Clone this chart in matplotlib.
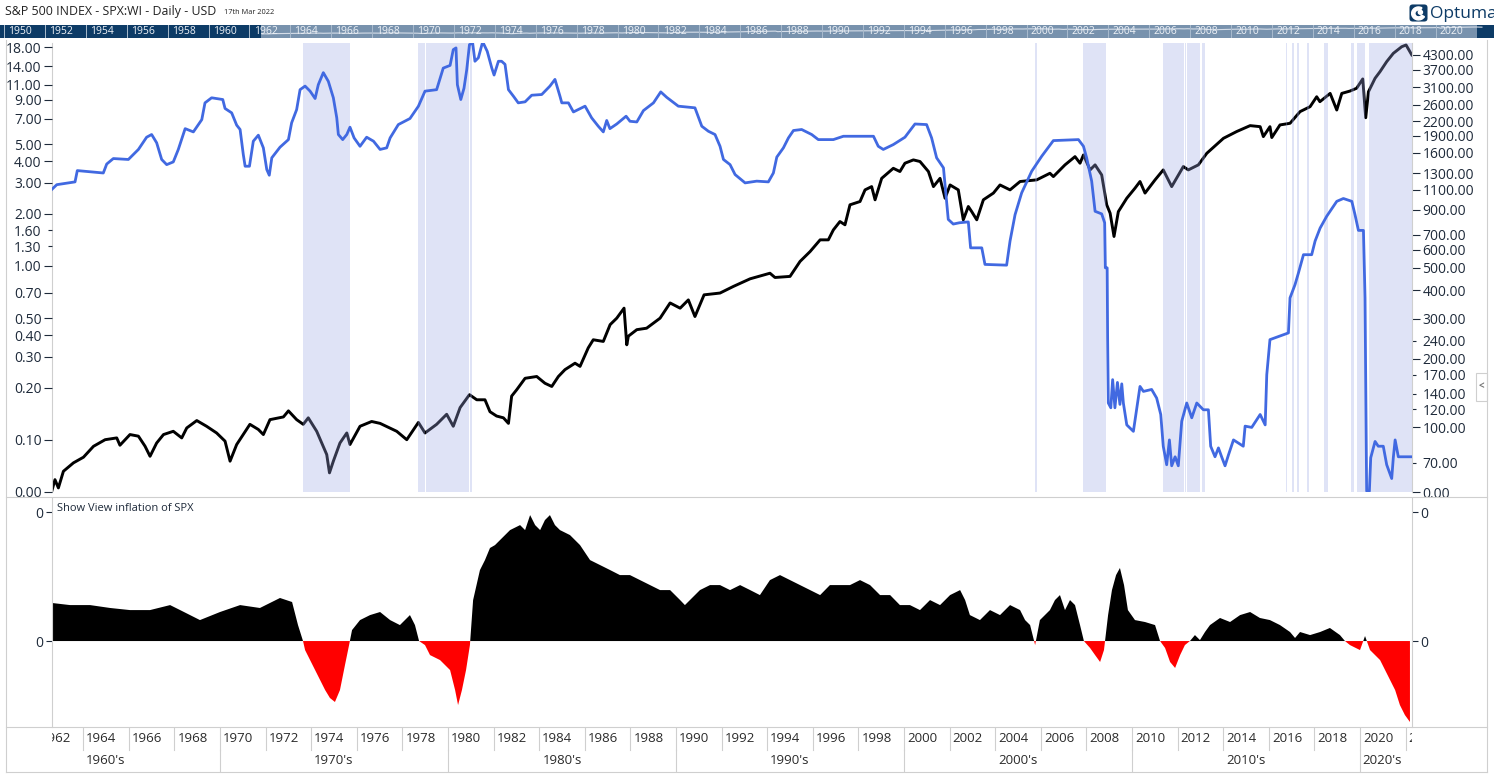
import numpy as np
import matplotlib
matplotlib.use("Agg")
import matplotlib.pyplot as plt
from matplotlib.lines import Line2D
from matplotlib.patches import Rectangle, FancyBboxPatch, Wedge, Circle

# ---- data ----
# 3-month rate (blue, left axis)
blue_years = [1962.62, 1962.84, 1963.64, 1963.74, 1964.88, 1965.03, 1965.32, 1965.98, 1966.42, 1966.78,
              1967.0, 1967.22, 1967.44, 1967.66, 1967.95, 1968.17, 1968.47, 1968.83, 1969.2, 1969.34,
              1969.63, 1970.12, 1970.22, 1970.51, 1970.73, 1970.88, 1971.02, 1971.1, 1971.29, 1971.46,
              1971.68, 1971.9, 1972.05, 1972.16, 1972.27, 1972.63, 1973.0, 1973.14, 1973.36, 1973.51,
              1973.73, 1973.95, 1974.17, 1974.31, 1974.53, 1974.75, 1974.97, 1975.12, 1975.19, 1975.38,
              1975.56, 1975.7, 1975.88, 1976.14, 1976.43, 1976.73, 1977.02, 1977.31, 1977.46, 1977.82,
              1978.33, 1978.7, 1978.99, 1979.5, 1979.79, 1980.09, 1980.23, 1980.35, 1980.41, 1980.56,
              1980.7, 1980.82, 1980.94, 1981.08, 1981.18, 1981.33, 1981.52, 1981.72, 1981.92, 1982.02,
              1982.21,
              1982.35, 1982.5, 1982.65, 1982.87, 1983.08, 1983.38, 1983.67, 1984.11, 1984.47, 1984.69,
              1984.91, 1984.99, 1985.28, 1985.5, 1986.01, 1986.3, 1986.59, 1986.81, 1986.96, 1987.1,
              1987.4, 1987.81, 1987.98, 1988.28, 1988.57, 1989.01, 1989.33, 1989.59, 1990.1, 1990.83,
              1991.13, 1991.42, 1991.71, 1991.93, 1992.08, 1992.37, 1992.59, 1993.03, 1993.54, 1994.05,
              1994.27, 1994.42, 1994.71, 1994.93, 1995.15, 1995.51, 1995.95, 1996.24, 1996.9, 1997.34,
              1998.66, 1998.87, 1999.09, 1999.53, 2000.04, 2000.48, 2000.99, 2001.21, 2001.43, 2001.73,
              2001.94, 2002.16, 2002.43,
              2002.82, 2002.92, 2003.41, 2003.55, 2004.5, 2004.65, 2004.87, 2005.16, 2005.6, 2006.04,
              2006.55, 2007.65, 2007.87, 2008.01, 2008.23, 2008.38, 2008.67, 2008.8, 2008.83, 2008.91,
              2008.93, 2008.96, 2009.07, 2009.15, 2009.25, 2009.36, 2009.47, 2009.55, 2009.62, 2009.77,
              2010.06, 2010.21, 2010.35, 2010.5, 2010.86, 2011.08, 2011.26, 2011.37, 2011.52, 2011.64,
              2011.74, 2011.89, 2012.03, 2012.18, 2012.4, 2012.62, 2012.84, 2013.13, 2013.35, 2013.45,
              2013.64, 2013.79, 2013.93, 2014.08, 2014.23, 2014.45, 2014.88, 2014.96, 2015.25, 2015.62,
              2015.84, 2015.91, 2016.05, 2016.86, 2016.93, 2017.15, 2017.3, 2017.52, 2017.88, 2018.03,
              2018.25, 2018.54, 2018.98, 2019.27, 2019.64, 2019.78, 2019.93, 2020.15, 2020.22, 2020.29,
              2020.41, 2020.47, 2020.66, 2020.8, 2021.02, 2021.17, 2021.39, 2021.46, 2021.54, 2021.68,
              2022.05, 2022.25]
blue_vals = [2.75, 2.93, 3.04, 3.53, 3.42, 3.85, 4.14, 4.09, 4.67, 5.49,
             5.69, 5.10, 4.09, 3.82, 3.96, 4.67, 6.15, 5.89, 6.93, 8.65,
             9.25, 9.04, 8.03, 7.58, 6.44, 6.08, 4.37, 3.74, 3.74, 5.21,
             5.64, 4.77, 3.58, 3.32, 4.18, 4.81, 5.32, 6.64, 7.91, 10.3,
             10.8, 10.1, 9.16, 11.0, 12.9, 11.5, 9.25, 7.09, 5.69, 5.32,
             5.69, 6.27, 5.44, 4.87, 5.49, 5.21, 4.67, 4.77, 5.44, 6.49,
             7.03, 8.27, 10.1, 10.3, 13.7, 14.2, 17.5, 17.9, 11.0, 9.04,
             10.5, 13.4, 18.7, 19.1, 15.0, 15.7, 19.4, 17.1, 13.7, 12.5,
             15.0,
             15.0, 14.4, 10.3, 9.44, 8.65, 8.77, 9.57, 9.66, 10.8, 11.8,
             9.44, 8.65, 8.65, 7.67, 8.28, 7.09, 6.35, 5.89, 6.85, 6.15,
             6.54, 7.25, 6.78, 6.72, 7.81, 8.65, 10.0, 9.31, 8.28, 8.10,
             6.35, 5.94, 5.69, 4.87, 4.09, 3.82, 3.35, 3.00, 3.07, 3.04,
             3.42, 4.22, 4.77, 5.44, 6.00, 6.08, 5.69, 5.32, 5.32, 5.56,
             5.56, 4.87, 4.67, 4.98, 5.49, 6.54, 6.49, 5.44, 4.18, 3.66,
             1.85, 1.74, 1.77,
             1.79, 1.27, 1.27, 1.02, 1.01, 1.39, 1.97, 2.63, 3.50, 4.27,
             5.25, 5.32, 4.87, 4.18, 3.07, 2.06, 1.99, 1.77, 0.975, 0.975,
             0.386, 0.163, 0.153, 0.222, 0.153, 0.214, 0.160, 0.210, 0.163, 0.122,
             0.112, 0.153, 0.203, 0.190, 0.195, 0.174, 0.140, 0.092, 0.072, 0.100,
             0.071, 0.080, 0.071, 0.128, 0.163, 0.134, 0.163, 0.149, 0.149, 0.092,
             0.080, 0.090, 0.080, 0.071, 0.082, 0.100, 0.092, 0.120, 0.118, 0.140,
             0.122, 0.237, 0.377, 0.412, 0.655, 0.781, 0.912, 1.16, 1.16, 1.39,
             1.65, 1.93, 2.35, 2.44, 2.35, 1.97, 1.60, 1.60, 0.655, 0.0507,
             0.0507, 0.079, 0.098, 0.092, 0.092, 0.072, 0.060, 0.079, 0.100, 0.080,
             0.080, 0.080]

# S&P 500 (black, right axis)
spx_years = [1962.62, 1962.76, 1962.91, 1963.13, 1963.57, 1964.01, 1964.45, 1964.96, 1965.47, 1965.61,
             1966.05, 1966.42, 1966.71, 1966.93, 1967.22, 1967.52, 1967.95, 1968.32, 1968.54, 1968.98,
             1969.41, 1969.85, 1970.22, 1970.44, 1970.73, 1971.31, 1971.68, 1971.9, 1972.19, 1972.78,
             1973.0, 1973.36, 1973.65, 1973.87, 1974.24, 1974.68, 1974.8, 1974.97, 1975.26, 1975.56,
             1975.7, 1976.14, 1976.65, 1977.02, 1977.75, 1978.19, 1978.7, 1978.99, 1979.5, 1979.94,
             1980.23, 1980.53, 1980.94, 1981.26, 1981.62, 1981.84, 1982.13, 1982.43, 1982.65,
             1982.79, 1983.01, 1983.38, 1983.89, 1984.25, 1984.55, 1984.84, 1985.13, 1985.57, 1985.79,
             1986.15, 1986.37, 1986.81, 1987.11, 1987.4, 1987.72, 1987.84, 1987.91, 1988.28, 1988.71,
             1989.3, 1989.74, 1990.18, 1990.54, 1990.83, 1991.23, 1991.93, 1992.52, 1993.25, 1994.12,
             1994.34, 1995.0, 1995.44, 1995.88, 1996.32, 1996.68, 1996.9, 1997.19, 1997.41, 1997.63,
             1998.07, 1998.29, 1998.58, 1998.73, 1999.02, 1999.53, 1999.82, 2000.04, 2000.41, 2000.7,
             2001.07, 2001.29, 2001.58, 2001.8, 2002.02,
             2002.38, 2002.6, 2002.82, 2002.97, 2003.19, 2003.48, 2003.92, 2004.21, 2004.65, 2005.09,
             2005.82, 2006.4, 2006.55, 2007.06, 2007.5, 2007.72, 2007.87, 2008.16, 2008.38, 2008.67,
             2008.89, 2009.04, 2009.21, 2009.4, 2009.77, 2010.13, 2010.35, 2010.57, 2011.01, 2011.37,
             2011.74, 2012.25, 2012.47, 2012.91, 2013.28, 2014.01, 2014.59, 2015.18, 2015.62, 2015.76,
             2016.05, 2016.13, 2016.49, 2016.93, 2017.37, 2017.81, 2018.1, 2018.24, 2018.69, 2018.98,
             2019.2, 2019.56, 2019.85, 2020.12, 2020.25, 2020.37, 2020.66, 2020.88, 2021.17, 2021.46,
             2021.83, 2022.02, 2022.27]
spx_vals = [52.4, 58.9, 54.2, 64.1, 69.8, 73.9, 82.5, 88.2, 89.8, 83.4,
            92.9, 91.4, 82.6, 74.6, 85.3, 92.9, 96.0, 89.8, 99.3, 107,
            101, 94.4, 86.9, 71.0, 84.0, 103, 97.8, 92.9, 108, 111,
            118, 108, 103, 110, 96, 75.9, 63.1, 71, 85.3, 94.4,
            84, 101, 106, 104, 96, 88.2, 105, 94.4, 103, 114,
            101, 122, 139, 132, 132, 117, 112, 110, 104,
            137, 146, 164, 167, 156, 151, 167, 179, 191, 185,
            223, 242, 238, 282, 301, 333, 230, 251, 268, 272,
            301, 351, 333, 362, 306, 381, 388, 415, 448, 474,
            454, 459, 534, 590, 664, 664, 734, 799, 773, 946,
            978, 1100, 1137, 995, 1236, 1368, 1324, 1440, 1489, 1465,
            1324, 1137, 1236, 1011, 1156,
            1100, 813, 930, 883, 813, 995, 1065, 1156, 1100, 1197,
            1217, 1301, 1258, 1416, 1539, 1440, 1566, 1346, 1416, 1279,
            946, 869, 687, 883, 1011, 1119, 1197, 1065, 1217, 1346,
            1137, 1392, 1346, 1416, 1592, 1852, 1983, 2105, 2083, 1884,
            2083, 1866, 2120, 2155, 2425, 2549, 2818, 2681, 2915, 2465,
            2915, 2985, 3070, 3373, 2280, 2965, 3396, 3634, 4018, 4369,
            4672, 4753, 4300]

# lower panel indicator
ind_years = [1962.63, 1963.42, 1964.30, 1965.18, 1966.05, 1966.93, 1967.81, 1968.25, 1969.12, 1970.00,
             1970.88, 1971.75, 1972.63, 1973.16, 1973.42, 1973.64, 1973.73, 1973.95, 1974.17, 1974.39,
             1974.61, 1974.82, 1975.04, 1975.26, 1975.48, 1975.66, 1975.79, 1976.14, 1976.58, 1977.02,
             1977.46, 1977.89, 1978.11, 1978.33, 1978.55, 1978.73, 1978.99, 1979.21, 1979.65, 1980.09,
             1980.31, 1980.44, 1980.61, 1980.79, 1980.96, 1981.10, 1981.40, 1981.62, 1981.84, 1982.06,
             1982.28, 1982.72, 1983.16, 1983.38, 1983.60, 1983.82, 1984.04, 1984.25, 1984.47, 1984.69,
             1984.91, 1985.35, 1985.79, 1986.23, 1986.67, 1987.11, 1987.54, 1987.98, 1988.42, 1988.86,
             1989.30, 1989.74, 1990.18, 1990.39, 1990.61, 1991.05, 1991.49, 1991.93, 1992.37, 1992.81,
             1993.25, 1993.68, 1994.12, 1994.56, 1995.00, 1995.44, 1995.88, 1996.32, 1996.75, 1997.19,
             1997.63, 1998.07, 1998.51, 1998.95, 1999.39, 1999.82, 2000.26, 2000.70, 2001.14, 2001.58,
             2002.02, 2002.46, 2002.68, 2002.89, 2003.33, 2003.77, 2004.21, 2004.65, 2005.09, 2005.31,
             2005.53, 2005.75, 2005.96, 2006.40, 2006.62, 2006.84, 2007.06, 2007.28, 2007.50, 2007.72,
             2007.89, 2008.16, 2008.38, 2008.60, 2008.77, 2008.95, 2009.12, 2009.30, 2009.47, 2009.65,
             2009.82, 2010.13, 2010.57, 2011.01, 2011.23, 2011.45, 2011.67, 2011.89, 2012.11, 2012.32,
             2012.54, 2012.76, 2012.98, 2013.20, 2013.42, 2013.86, 2014.30, 2014.74, 2015.18, 2015.61,
             2016.05, 2016.49, 2016.93, 2017.15, 2017.37, 2017.81, 2018.25, 2018.68, 2019.12, 2019.34,
             2019.56, 2020.00, 2020.22, 2020.44, 2020.88, 2021.32, 2021.54, 2021.75, 2021.97, 2022.19]
ind_vals = [2.36, 2.23, 2.23, 2.05, 1.92, 1.92, 2.23, 1.92, 1.30, 1.80,
            2.23, 2.05, 2.67, 2.42, 0.99, 0.0, -0.56, -1.18, -1.80, -2.42,
            -3.04, -3.53, -3.78, -3.04, -1.49, -0.25, 0.68, 1.30, 1.61, 1.80,
            1.30, 0.99, 1.30, 1.61, 0.99, 0.0, -0.25, -0.87, -1.18, -1.80,
            -3.04, -3.97, -3.04, -1.80, -0.25, 2.54, 4.40, 5.02, 5.77, 5.95,
            6.26, 6.88, 7.19, 6.88, 7.81, 7.19, 6.88, 7.50, 7.81, 7.19,
            6.88, 6.57, 5.95, 5.02, 4.71, 4.40, 4.09, 4.09, 3.78, 3.47,
            3.16, 3.16, 2.54, 2.23, 2.54, 3.16, 3.47, 3.47, 3.16, 3.47,
            3.16, 2.85, 3.78, 4.09, 3.78, 3.47, 3.16, 2.85, 3.47, 3.47,
            3.47, 3.78, 3.47, 2.85, 2.85, 2.23, 2.23, 1.92, 2.54, 2.23,
            2.85, 3.16, 2.54, 1.61, 1.30, 1.92, 1.61, 2.23, 1.92, 1.30,
            0.99, -0.25, 1.30, 1.92, 2.54, 2.85, 1.92, 2.54, 2.23, 0.99,
            0.0, -0.43, -0.87, -1.30, -0.56, 1.61, 3.16, 4.09, 4.53, 3.47,
            1.92, 1.30, 1.18, 0.99, 0.0, -0.43, -1.30, -1.67, -0.87, -0.25,
            0.0, 0.37, 0.06, 0.56, 0.99, 1.43, 1.18, 1.61, 1.80, 1.43,
            1.30, 0.99, 0.56, 0.19, 0.56, 0.37, 0.56, 0.81, 0.37, 0.0,
            -0.25, -0.56, 0.31, -0.56, -1.18, -2.42, -3.04, -3.97, -4.59, -5.02]

# shaded periods
shade_start = [1973.65, 1978.67, 1979.03, 1980.95, 2005.75, 2007.87, 2011.38, 2012.31, 2012.41,
               2013.06, 2016.76, 2017.02, 2017.22, 2017.66, 2018.42, 2019.61, 2019.85, 2020.41]
shade_end = [1975.70, 1978.99, 1980.93, 1981.04, 2005.85, 2008.85, 2012.27, 2012.35, 2012.97,
             2013.20, 2016.81, 2017.11, 2017.31, 2017.76, 2018.58, 2019.75, 2020.22, 2022.30]

# axis ticks
left_ticks = [18, 14, 11, 9, 7, 5, 4, 3, 2, 1, 0.7, 0.5, 0.4, 0.3, 0.2, 0.1]
left_minor = [1.6, 1.3]
right_ticks = [4300, 3700, 3100, 2600, 2200, 1900, 1600, 1300, 1100, 900, 700, 600, 500, 400, 300, 200, 100]
right_minor = [240, 170, 140, 120, 70]
nav_years = list(range(1950, 2022, 2))
year_labels = list(range(1962, 2024, 2))
decades = list(range(1960, 2030, 10))

W, H = 1494, 779
X0, X1 = 1962.63, 2022.28
LEFT_LIM = (0.0502, 19.1)
RIGHT_LIM = (52.0, 4850)
TXT = "#1e2a3a"
GRID = "#cfcfcf"

plt.rcParams["font.family"] = ["Open Sans", "DejaVu Sans"]


def fx(x):
    return x / W


def fy(y):
    return 1 - y / H


fig = plt.figure(figsize=(W / 100, H / 100), dpi=100)
fig.patch.set_facecolor("white")

# ---- main panel: black on host axes (right scale), blue on twin (left scale) ----
ax = fig.add_axes([fx(52), fy(492), fx(1412) - fx(52), (492 - 43) / H])
ax.set_xlim(X0, X1)
ax.set_yscale("log")
ax.set_ylim(*RIGHT_LIM)
ax.plot(spx_years, spx_vals, color="black", lw=2.1, zorder=2)

ax2 = ax.twinx()
ax2.set_yscale("log")
ax2.set_ylim(*LEFT_LIM)
for s, e in zip(shade_start, shade_end):
    ax2.axvspan(s, e, color=(0.62, 0.66, 0.90), alpha=0.32, lw=0, zorder=1)
ax2.plot(blue_years, blue_vals, color="#4169e1", lw=2.0, zorder=3)

# twinx flips the host ticks to the left, so set the sides afterwards
ax.yaxis.tick_right()
ax2.yaxis.tick_left()
ax.set_yticks(right_ticks + [RIGHT_LIM[0]],
              labels=[f"{v:.2f}" for v in right_ticks] + ["0.00"])
ax.set_yticks(right_minor, labels=[f"{v:.2f}" for v in right_minor], minor=True)
ax2.set_yticks(left_ticks + [LEFT_LIM[0]],
               labels=[f"{v:.2f}" for v in left_ticks] + ["0.00"])
ax2.set_yticks(left_minor, labels=[f"{v:.2f}" for v in left_minor], minor=True)
ax.tick_params(axis="y", which="both", left=False, labelleft=False,
               right=True, labelright=True, width=0.8, labelsize=10, colors=TXT)
ax2.tick_params(axis="y", which="both", left=True, labelleft=True,
                right=False, labelright=False, width=0.8, labelsize=10, colors=TXT)
for a in (ax, ax2):
    a.tick_params(axis="y", which="major", length=6, pad=1.5)
    a.tick_params(axis="y", which="minor", length=3, pad=4.5)
    a.set_xticks([])
    for s in a.spines.values():
        s.set_visible(False)
ax.spines["left"].set_visible(True)
ax.spines["right"].set_visible(True)
ax.spines["left"].set_color(GRID)
ax.spines["right"].set_color(GRID)

# ---- lower panel ----
lax = fig.add_axes([fx(52), fy(727), fx(1412) - fx(52), (727 - 498) / H])
lax.set_xlim(X0, X1)
lax.set_ylim(-5.33, 8.87)
iy = np.array(ind_years)
iv = np.array(ind_vals)
lax.fill_between(iy, iv, 0, where=iv >= 0, interpolate=True, color="black", lw=0)
lax.fill_between(iy, iv, 0, where=iv <= 0, interpolate=True, color="#ff0000", lw=0)
lax.set_yticks([0, 8.0], labels=["0", "0"])
lax.tick_params(axis="y", left=True, right=True, labelleft=True, labelright=True,
                length=4, width=0.8, pad=2, labelsize=10, colors=TXT)
lax.set_xticks([])
for s in lax.spines.values():
    s.set_visible(False)
lax.spines["left"].set_visible(True)
lax.spines["right"].set_visible(True)
lax.spines["left"].set_color(GRID)
lax.spines["right"].set_color(GRID)
lax.text(0.0037, 0.952, "Show View inflation of SPX", transform=lax.transAxes,
         ha="left", va="center", fontsize=8, color=TXT)

# ---- date axis ----
dax = fig.add_axes([fx(52), fy(772), fx(1412) - fx(52), (772 - 727) / H])
dax.set_xlim(X0, X1)
dax.set_ylim(0, 2)
dax.axis("off")
for yr in year_labels:
    dax.plot([yr, yr], [1, 2], color=GRID, lw=0.8)
    dax.text(yr + 3 / 22.8, 1.5, str(yr), ha="left", va="center", fontsize=9.5,
             color="#2a2a2a", clip_on=True)
for dec in decades:
    dax.plot([dec, dec], [0, 1], color=GRID, lw=0.8)
    cx = min(max(dec + 5, X0 + 1.3), X1 - 1.3)
    dax.text(cx, 0.5, f"{dec}'s", ha="center", va="center", fontsize=9.5,
             color="#2a2a2a", clip_on=True)

# ---- navigator bar ----
nav = fig.add_axes([0, fy(38), 1, 13 / H])
nav.set_xlim(1949.8, 2022.86)
nav.set_yscale("log")
nav.set_ylim(3.9, 17400)
nav.axis("off")
nav.axvspan(1962.55, 2022.05, color="#7892ad", lw=0)
nav.axvspan(1949.8, 1962.55, color="#0d3b66", lw=0)
nav.axvspan(2022.05, 2022.86, color="#0d3b66", lw=0)
nav.plot(spx_years, spx_vals, color="#d5dde8", lw=0.8)
for yr in nav_years:
    nav.axvline(yr, color="#a9bbcd", lw=0.7)
    nav.text(yr + 0.2, 0.5, str(yr), ha="left", va="center", fontsize=7.5,
             color="#eef2f7", transform=nav.get_xaxis_transform(), clip_on=True)

# ---- frame lines ----
frame = [((6, 6), (40, 772)), ((1487, 1487), (40, 772)),
         ((6, 1487), (497, 497)), ((6, 1487), (727, 727)), ((6, 1487), (772, 772))]
for xs, ys in frame:
    fig.add_artist(Line2D([fx(xs[0]), fx(xs[1])], [fy(ys[0]), fy(ys[1])],
                          color=GRID, lw=0.8, transform=fig.transFigure))

# collapse tab
fig.add_artist(Rectangle((fx(1476), fy(401)), 11 / W, 28 / H, transform=fig.transFigure,
                         facecolor="white", edgecolor=GRID, lw=0.8))
fig.text(fx(1481.5), fy(387), "<", ha="center", va="center", fontsize=7,
         color="#777777", fontweight="bold")

# ---- header ----
fig.text(fx(5), fy(11), "S&P 500 INDEX - SPX:WI - Daily - USD", ha="left", va="center",
         fontsize=8.9, color="#222222")
fig.text(fx(224), fy(13), "17th Mar 2022", ha="left", va="center", fontsize=5.3,
         color="#222222")

# Optuma logo
logo = fig.add_axes([fx(1409), fy(22), 19 / W, 18 / H])
logo.set_xlim(-1, 1)
logo.set_ylim(-1, 1)
logo.axis("off")
logo.add_patch(FancyBboxPatch((-0.95, -0.95), 1.9, 1.9,
                              boxstyle="round,pad=0,rounding_size=0.35",
                              facecolor="#0d3b66", lw=0))
logo.add_patch(Wedge((0.0, -0.05), 0.72, 60, 330, width=0.34, color="white"))
logo.add_patch(Circle((0.2, 0.08), 0.22, color="white"))
fig.text(fx(1430), fy(14), "Optuma", ha="left", va="center", fontsize=12.5,
         color="#0d3b66")

fig.savefig("out.png", dpi=100)
